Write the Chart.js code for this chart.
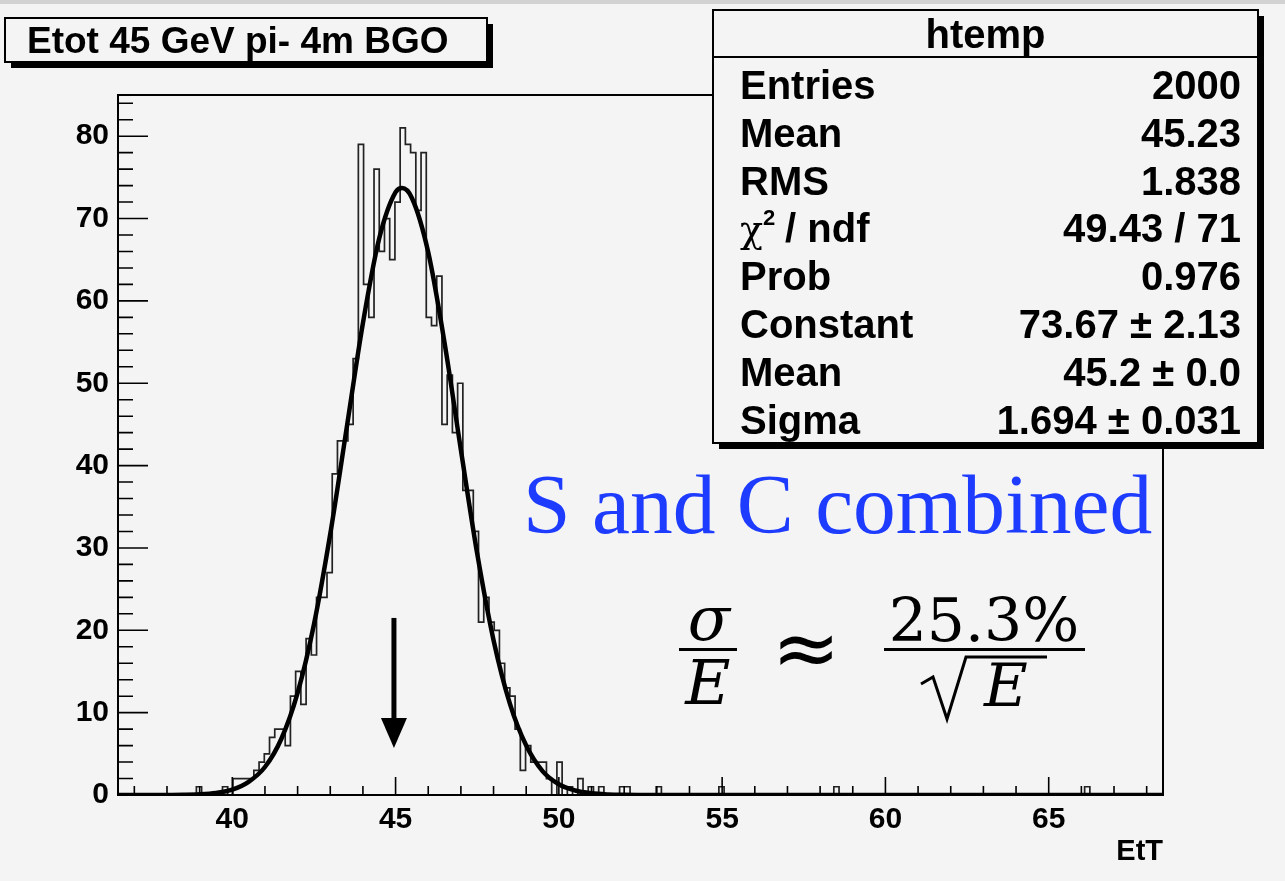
<!DOCTYPE html>
<html>
<head>
<meta charset="utf-8">
<title>Etot 45 GeV pi- 4m BGO</title>
<script src="https://cdn.jsdelivr.net/npm/chart.js@4.4.0/dist/chart.umd.min.js"></script>
<style>
  html, body { margin: 0; padding: 0; background: #f4f4f4; }
  #wrap { width: 1285px; height: 881px; position: relative; }
</style>
</head>
<body>
<div id="wrap"><canvas id="histo"></canvas></div>
<script>
// binning of htemp (200 bins)
const xMin = 36.5;
const xMax = 68.5;
const binWidth = 0.16;
const yMax = 85;

// bin contents (20 bins per line)
const counts = [
  0, 0, 0, 0, 0, 0, 0, 0, 0, 0, 0, 0, 0, 0, 0, 1, 0, 0, 0, 0,
  1, 0, 2, 2, 2, 2, 3, 4, 5, 7, 8, 8, 6, 12, 15, 11, 19, 17, 24, 24,
  27, 39, 43, 43, 45, 53, 79, 62, 58, 76, 66, 70, 65, 72, 81, 79, 78, 71, 78, 58,
  57, 63, 45, 51, 44, 50, 37, 37, 32, 21, 24, 21, 20, 16, 13, 12, 8, 3, 6, 4,
  4, 4, 2, 0, 4, 0, 1, 0, 2, 0, 1, 0, 1, 0, 0, 0, 1, 1, 0, 0,
  0, 0, 0, 1, 0, 0, 0, 0, 0, 0, 0, 0, 0, 0, 0, 1, 0, 0, 0, 0,
  0, 0, 0, 0, 0, 0, 0, 0, 0, 0, 0, 0, 0, 0, 0, 0, 0, 1, 0, 0,
  0, 0, 0, 0, 0, 0, 0, 0, 0, 0, 0, 0, 0, 0, 0, 0, 0, 0, 0, 0,
  0, 0, 0, 0, 0, 0, 0, 0, 0, 0, 0, 0, 0, 0, 0, 0, 0, 0, 0, 0,
  0, 0, 0, 0, 0, 1, 0, 0, 0, 0, 0, 0, 0, 0, 0, 0, 0, 0, 0, 0
];

// gaussian fit curve, sampled off the plot
const fitX = [36.5, 38, 38.5, 39, 39.5, 40, 40.5, 41, 41.5, 42, 42.5, 43, 43.5, 44, 44.5, 45, 45.2,
              45.5, 46, 46.5, 47, 47.5, 48, 48.5, 49, 49.5, 50, 50.5, 51, 51.5, 52, 53, 68.5];
const fitY = [0, 0.01, 0.03, 0.09, 0.26, 0.66, 1.6, 3.4, 6.8, 12.4, 20.7, 31.7, 44.5, 57.3, 67.6, 73.2, 73.7,
              72.5, 65.9, 54.9, 41.9, 29.3, 18.8, 11.1, 6.0, 2.9, 1.3, 0.55, 0.21, 0.07, 0.02, 0, 0];

// stats box
const statsTitle = 'htemp';
const statNames = ['Entries', 'Mean', 'RMS', 'chi2', 'Prob', 'Constant', 'Mean', 'Sigma'];
const statValues = ['2000', '45.23', '1.838', '49.43 / 71', '0.976', '73.67 \u00b1 2.13', '45.2 \u00b1 0.0', '1.694 \u00b1 0.031'];

const histTitle = 'Etot 45 GeV pi- 4m BGO';
const xTitle = 'EtT';
const arrowX = 44.95;
const arrowTop = 21.5;
const arrowTip = 5.7;

const histPoints = counts.map((c, i) => ({ x: xMin + i * binWidth, y: c }));
histPoints.push({ x: xMax, y: counts[counts.length - 1] });
const fitPoints = fitX.map((v, i) => ({ x: v, y: fitY[i] }));

const bg = '#f4f4f4';
const sans = "'Liberation Sans', Arial, sans-serif";
const tickFont = { family: sans, size: 30, weight: 'bold' };

function shadowBox(ctx, x, y, w, h) {
    ctx.fillStyle = '#000';
    ctx.fillRect(x + 6, y + 6, w, h);
    ctx.fillStyle = bg;
    ctx.fillRect(x, y, w, h);
    ctx.strokeStyle = '#000';
    ctx.lineWidth = 2;
    ctx.strokeRect(x, y, w, h);
    ctx.fillStyle = '#000';
}

// frame + ROOT style inner ticks
const rootFrame = {
    id: 'rootFrame',
    afterDatasetsDraw(chart) {
        const { ctx, chartArea: a, scales: { x, y } } = chart;
        ctx.save();
        ctx.strokeStyle = '#000';
        ctx.lineWidth = 2;
        ctx.strokeRect(a.left, a.top, a.right - a.left, a.bottom - a.top);
        ctx.lineWidth = 1.6;
        ctx.beginPath();
        for (let v = Math.ceil(xMin); v <= xMax; v++) {
            const px = x.getPixelForValue(v);
            const len = v % 5 === 0 ? 18 : 9;
            ctx.moveTo(px, a.bottom);
            ctx.lineTo(px, a.bottom - len);
        }
        for (let v = 2; v < yMax; v += 2) {
            const py = y.getPixelForValue(v);
            const len = v % 10 === 0 ? 30 : 15;
            ctx.moveTo(a.left, py);
            ctx.lineTo(a.left + len, py);
        }
        ctx.stroke();

        // arrow at 45 GeV
        const ax = x.getPixelForValue(arrowX);
        const ay0 = y.getPixelForValue(arrowTop);
        const ay1 = y.getPixelForValue(arrowTip);
        ctx.lineWidth = 5;
        ctx.beginPath();
        ctx.moveTo(ax, ay0);
        ctx.lineTo(ax, ay1 - 20);
        ctx.stroke();
        ctx.fillStyle = '#000';
        ctx.beginPath();
        ctx.moveTo(ax - 13, ay1 - 30);
        ctx.lineTo(ax + 13, ay1 - 30);
        ctx.lineTo(ax, ay1);
        ctx.closePath();
        ctx.fill();
        ctx.restore();
    },
    afterDraw(chart) {
        const ctx = chart.ctx;
        ctx.save();

        // screenshot edge
        ctx.fillStyle = '#d2d2d2';
        ctx.fillRect(0, 0, 1285, 4);

        // title box
        shadowBox(ctx, 5, 18, 482, 44);
        ctx.font = `bold 37px ${sans}`;
        ctx.textAlign = 'left';
        ctx.textBaseline = 'alphabetic';
        ctx.fillText(histTitle, 27, 53);

        // stats box
        const sx = 713, sy = 10, sw = 545, sh = 433;
        shadowBox(ctx, sx, sy, sw, sh);
        ctx.beginPath();
        ctx.lineWidth = 2;
        ctx.moveTo(sx, 57);
        ctx.lineTo(sx + sw, 57);
        ctx.stroke();
        ctx.font = `bold 40px ${sans}`;
        ctx.textAlign = 'center';
        ctx.fillText(statsTitle, sx + sw / 2, 48);
        statNames.forEach((name, i) => {
            const by = 99 + i * 47.8;
            ctx.textAlign = 'left';
            if (name === 'chi2') {
                ctx.font = `38px 'DejaVu Serif', serif`;
                ctx.fillText('\u03c7', 740, by);
                ctx.font = `bold 22px ${sans}`;
                ctx.fillText('2', 763, by - 17);
                ctx.font = `bold 40px ${sans}`;
                ctx.fillText(' / ndf', 774, by);
            } else {
                ctx.font = `bold 40px ${sans}`;
                ctx.fillText(name, 740, by);
            }
            ctx.textAlign = 'right';
            ctx.fillText(statValues[i], 1241, by);
        });

        // annotation
        ctx.fillStyle = '#1e3cff';
        ctx.textAlign = 'left';
        ctx.font = `85.5px 'Liberation Serif', 'Times New Roman', serif`;
        ctx.fillText('S and C combined', 523, 533);

        // sigma/E ~ 25.3%/sqrt(E)
        ctx.fillStyle = '#000';
        ctx.strokeStyle = '#000';
        ctx.textAlign = 'center';
        ctx.font = `italic 62px 'DejaVu Serif', serif`;
        ctx.fillText('\u03c3', 709, 640);
        ctx.fillText('E', 708, 704);
        ctx.fillRect(679, 648, 58, 3);
        ctx.font = `82px 'DejaVu Sans', sans-serif`;
        ctx.fillText('\u2248', 806, 676);
        ctx.font = `60px 'DejaVu Serif', serif`;
        ctx.fillText('25.3%', 984, 641);
        ctx.fillRect(884, 648, 201, 3);
        ctx.lineWidth = 3;
        ctx.lineJoin = 'miter';
        ctx.beginPath();
        ctx.moveTo(921, 684);
        ctx.lineTo(933, 677);
        ctx.lineTo(947, 719);
        ctx.lineTo(966, 657);
        ctx.lineTo(1047, 657);
        ctx.stroke();
        ctx.font = `italic 60px 'DejaVu Serif', serif`;
        ctx.fillText('E', 1006, 706);
        ctx.restore();
    }
};

new Chart(document.getElementById('histo'), {
    type: 'line',
    data: {
        datasets: [
            {
                label: 'fit',
                data: fitPoints,
                borderColor: '#000',
                borderWidth: 4.5,
                pointRadius: 0,
                cubicInterpolationMode: 'monotone',
                order: 0
            },
            {
                label: 'htemp',
                data: histPoints,
                borderColor: '#222',
                borderWidth: 1.7,
                pointRadius: 0,
                stepped: 'before',
                order: 1
            }
        ]
    },
    options: {
        responsive: true,
        maintainAspectRatio: false,
        animation: false,
        events: [],
        layout: { padding: { left: 0, top: 95, right: 122, bottom: 0 } },
        plugins: { legend: { display: false }, tooltip: { enabled: false } },
        scales: {
            x: {
                type: 'linear',
                min: xMin,
                max: xMax,
                grid: { display: false, drawTicks: false },
                border: { display: false },
                ticks: { stepSize: 5, includeBounds: false, color: '#000', font: tickFont, padding: 7, maxRotation: 0 },
                title: { display: true, text: xTitle, align: 'end', color: '#000', font: { family: sans, size: 29, weight: 'bold' }, padding: { top: 0, bottom: 12 } },
                afterFit(scale) { scale.height = 86; }
            },
            y: {
                min: 0,
                max: yMax,
                grid: { display: false, drawTicks: false },
                border: { display: false },
                ticks: { stepSize: 10, includeBounds: false, color: '#000', font: tickFont, padding: 9 },
                afterFit(scale) { scale.width = 118; }
            }
        }
    },
    plugins: [rootFrame]
});
</script>
</body>
</html>
